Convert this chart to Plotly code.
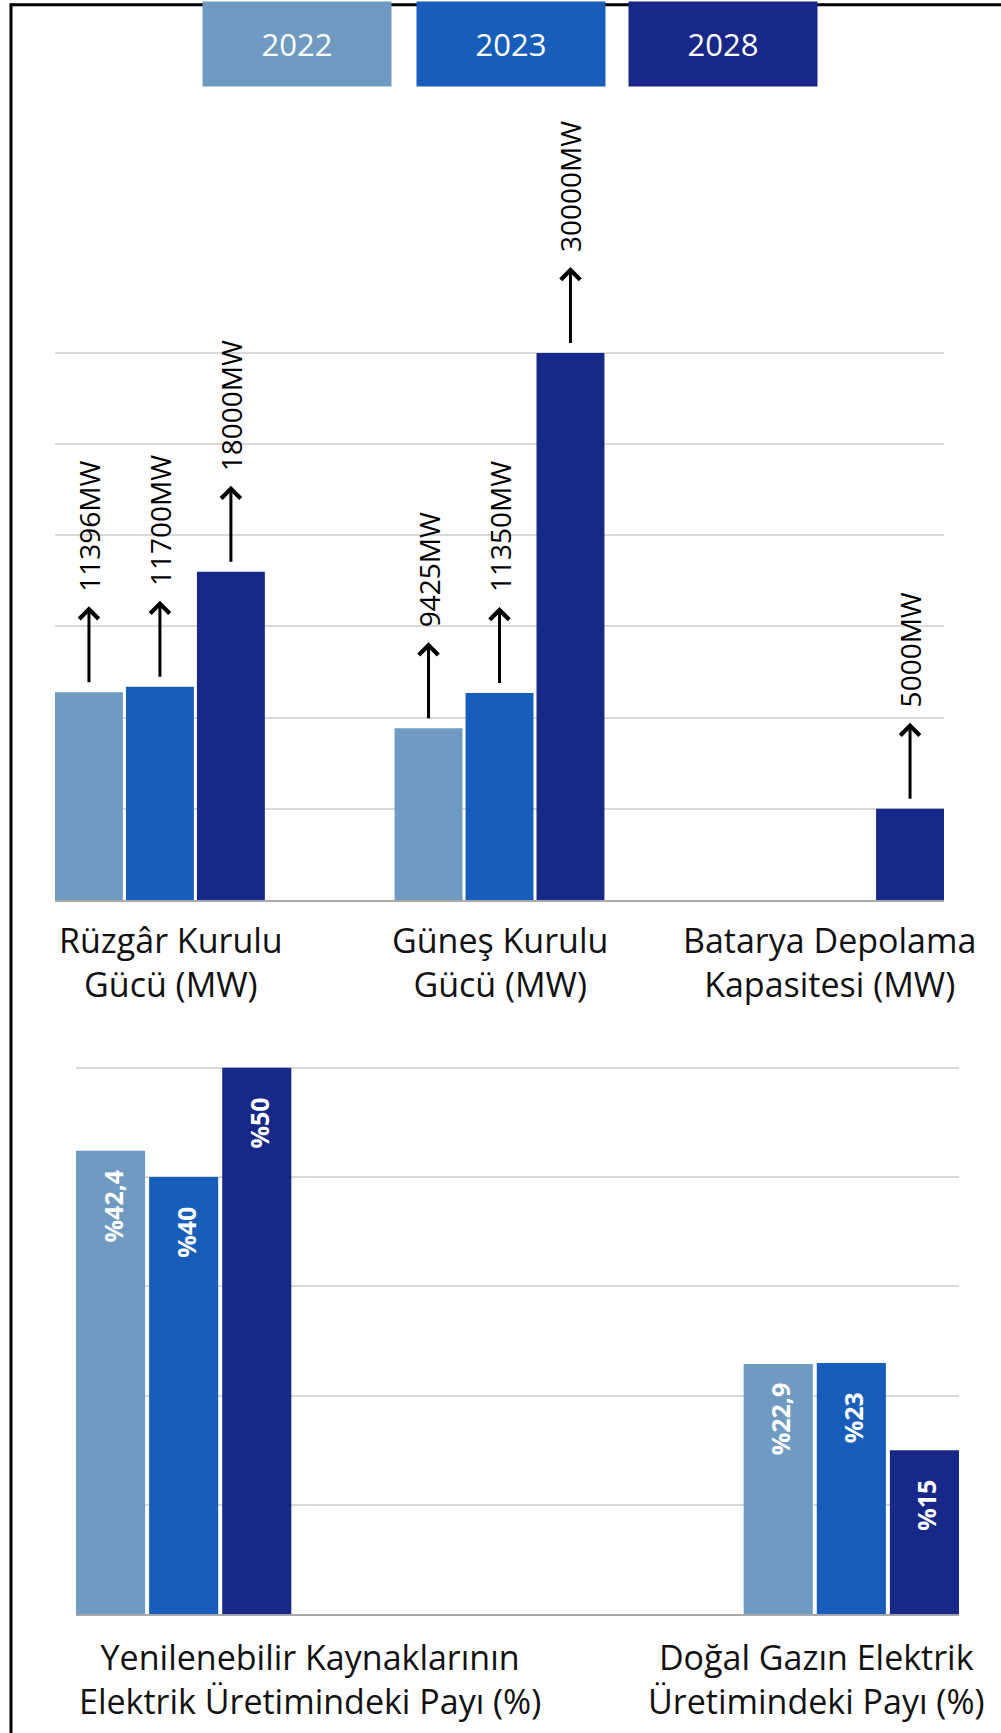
import plotly.graph_objects as go

W, H = 1001, 1733

# ---- data -------------------------------------------------------------
years = ["2022", "2023", "2028"]
year_colors = ["#6f9bc2", "#175ebb", "#172889"]

capacity_labels = [
    "Rüzgâr Kurulu<br>Gücü (MW)",
    "Güneş Kurulu<br>Gücü (MW)",
    "Batarya Depolama<br>Kapasitesi (MW)",
]
capacity_2022 = [11396, 9425, None]
capacity_2023 = [11700, 11350, None]
capacity_2028 = [18000, 30000, 5000]

share_labels = [
    "Yenilenebilir Kaynaklarının<br>Elektrik Üretimindeki Payı (%)",
    "Doğal Gazın Elektrik<br>Üretimindeki Payı (%)",
]
share_2022 = [42.4, 22.9]
share_2023 = [40, 23]
share_2028 = [50, 15]

# ---- geometry helpers --------------------------------------------------
def px_x(p):
    return p / W


def px_y(p):
    return 1 - p / H


FONT = "Open Sans"
capacity_series = [capacity_2022, capacity_2023, capacity_2028]
share_series = [share_2022, share_2023, share_2028]

# bar widths / offsets in category units
top_width = 0.2
top_offsets = [-0.309, -0.1, 0.109]
bot_width = 0.1035
bot_offsets = [-0.16125, -0.05175, 0.05775]

fig = go.Figure()

for yr, col, vals, off in zip(years, year_colors, capacity_series, top_offsets):
    fig.add_trace(go.Bar(
        x=capacity_labels, y=vals, name=yr, marker=dict(color=col, line=dict(width=0)),
        width=top_width, offset=off, xaxis="x", yaxis="y", hoverinfo="skip",
    ))

for yr, col, vals, off in zip(years, year_colors, share_series, bot_offsets):
    fig.add_trace(go.Bar(
        x=share_labels, y=vals, name=yr, marker=dict(color=col, line=dict(width=0)),
        width=bot_width, offset=off, xaxis="x2", yaxis="y2", hoverinfo="skip",
    ))

annotations = []

# value labels with arrows over the capacity bars
for vals, off in zip(capacity_series, top_offsets):
    for ci, v in enumerate(vals):
        if v is None:
            continue
        xc = ci + off + top_width / 2
        annotations.append(dict(
            xref="x", yref="y", x=xc, y=v, text=" ", font=dict(size=1),
            showarrow=True, ax=0, ay=-88, arrowside="start",
            startarrowhead=4, startarrowsize=1.25, arrowwidth=3,
            arrowcolor="black", standoff=10,
        ))
        annotations.append(dict(
            xref="x", yref="y", x=xc, y=v, text=f"{v}MW", textangle=-90,
            showarrow=False, yanchor="bottom", yshift=99,
            font=dict(family=FONT, size=28, color="black"),
        ))

# percentage labels inside the share bars
for vals, off in zip(share_series, bot_offsets):
    for ci, v in enumerate(vals):
        xc = ci + off + bot_width / 2
        annotations.append(dict(
            xref="x2", yref="y2", x=xc, y=v,
            text=f"%{v:g}".replace(".", ","), textangle=-90,
            showarrow=False, yanchor="middle", yshift=-55, xshift=2,
            font=dict(family=FONT, size=25, color="white", weight="bold"),
        ))

# category labels
for ci, (lab, sh) in enumerate(zip(capacity_labels, [11, 0, -10])):
    annotations.append(dict(
        xref="x", yref="y", x=ci, y=0, text=lab, showarrow=False,
        yanchor="top", yshift=-15, xshift=sh, align="center",
        font=dict(family=FONT, size=34, color="#111111"),
    ))
for ci, (lab, sh) in enumerate(zip(share_labels, [126.5, -35])):
    annotations.append(dict(
        xref="x2", yref="y2", x=ci, y=0, text=lab, showarrow=False,
        yanchor="top", yshift=-18, xshift=sh, align="center",
        font=dict(family=FONT, size=34, color="#111111"),
    ))

# legend boxes
for yr, col, cx in zip(years, year_colors, [297, 511, 723]):
    annotations.append(dict(
        xref="paper", yref="paper", x=px_x(cx), y=px_y(44), text=yr,
        showarrow=False, xanchor="center", yanchor="middle",
        width=188, height=84, borderpad=0, bgcolor=col,
        font=dict(family=FONT, size=31, color="white"),
    ))

# frame lines
shapes = [
    dict(type="line", xref="paper", yref="paper", x0=px_x(11), x1=1,
         y0=px_y(4.7), y1=px_y(4.7), line=dict(color="black", width=3)),
    dict(type="line", xref="paper", yref="paper", x0=px_x(11), x1=px_x(11),
         y0=0, y1=px_y(3.3), line=dict(color="black", width=3)),
]

grid = "#d9d9d9"
base = "#a8a8a8"

# value ranges run a hair past the last gridline so the top gridline is drawn
top_max = 30060
top_px_per_unit = (900 - 353) / 30000
bot_max = 50.1
bot_px_per_unit = (1614.3 - 1067.8) / 50

fig.update_layout(
    width=W, height=H, autosize=False,
    margin=dict(l=0, r=0, t=0, b=0),
    paper_bgcolor="white", plot_bgcolor="white",
    showlegend=False, barmode="overlay",
    annotations=annotations, shapes=shapes,
    xaxis=dict(domain=[px_x(55), px_x(944)], range=[-0.309, 2.309], anchor="y",
               type="category", showticklabels=False, showgrid=False, ticks="",
               showline=True, linecolor=base, linewidth=2, layer="below traces",
               fixedrange=True),
    yaxis=dict(domain=[px_y(900), px_y(900 - top_max * top_px_per_unit)],
               range=[0, top_max], anchor="x",
               tick0=0, dtick=5000, showgrid=True, gridcolor=grid, gridwidth=1.5,
               zeroline=False, showticklabels=False, ticks="", fixedrange=True),
    xaxis2=dict(domain=[px_x(76), px_x(959)], range=[-0.16125, 1.16125], anchor="y2",
                type="category", showticklabels=False, showgrid=False, ticks="",
                showline=True, linecolor=base, linewidth=2, layer="below traces",
                fixedrange=True),
    yaxis2=dict(domain=[px_y(1614.3), px_y(1614.3 - bot_max * bot_px_per_unit)],
                range=[0, bot_max], anchor="x2",
                tick0=0, dtick=10, showgrid=True, gridcolor=grid, gridwidth=1.5,
                zeroline=False, showticklabels=False, ticks="", fixedrange=True),
)

fig.write_html("out.html")
